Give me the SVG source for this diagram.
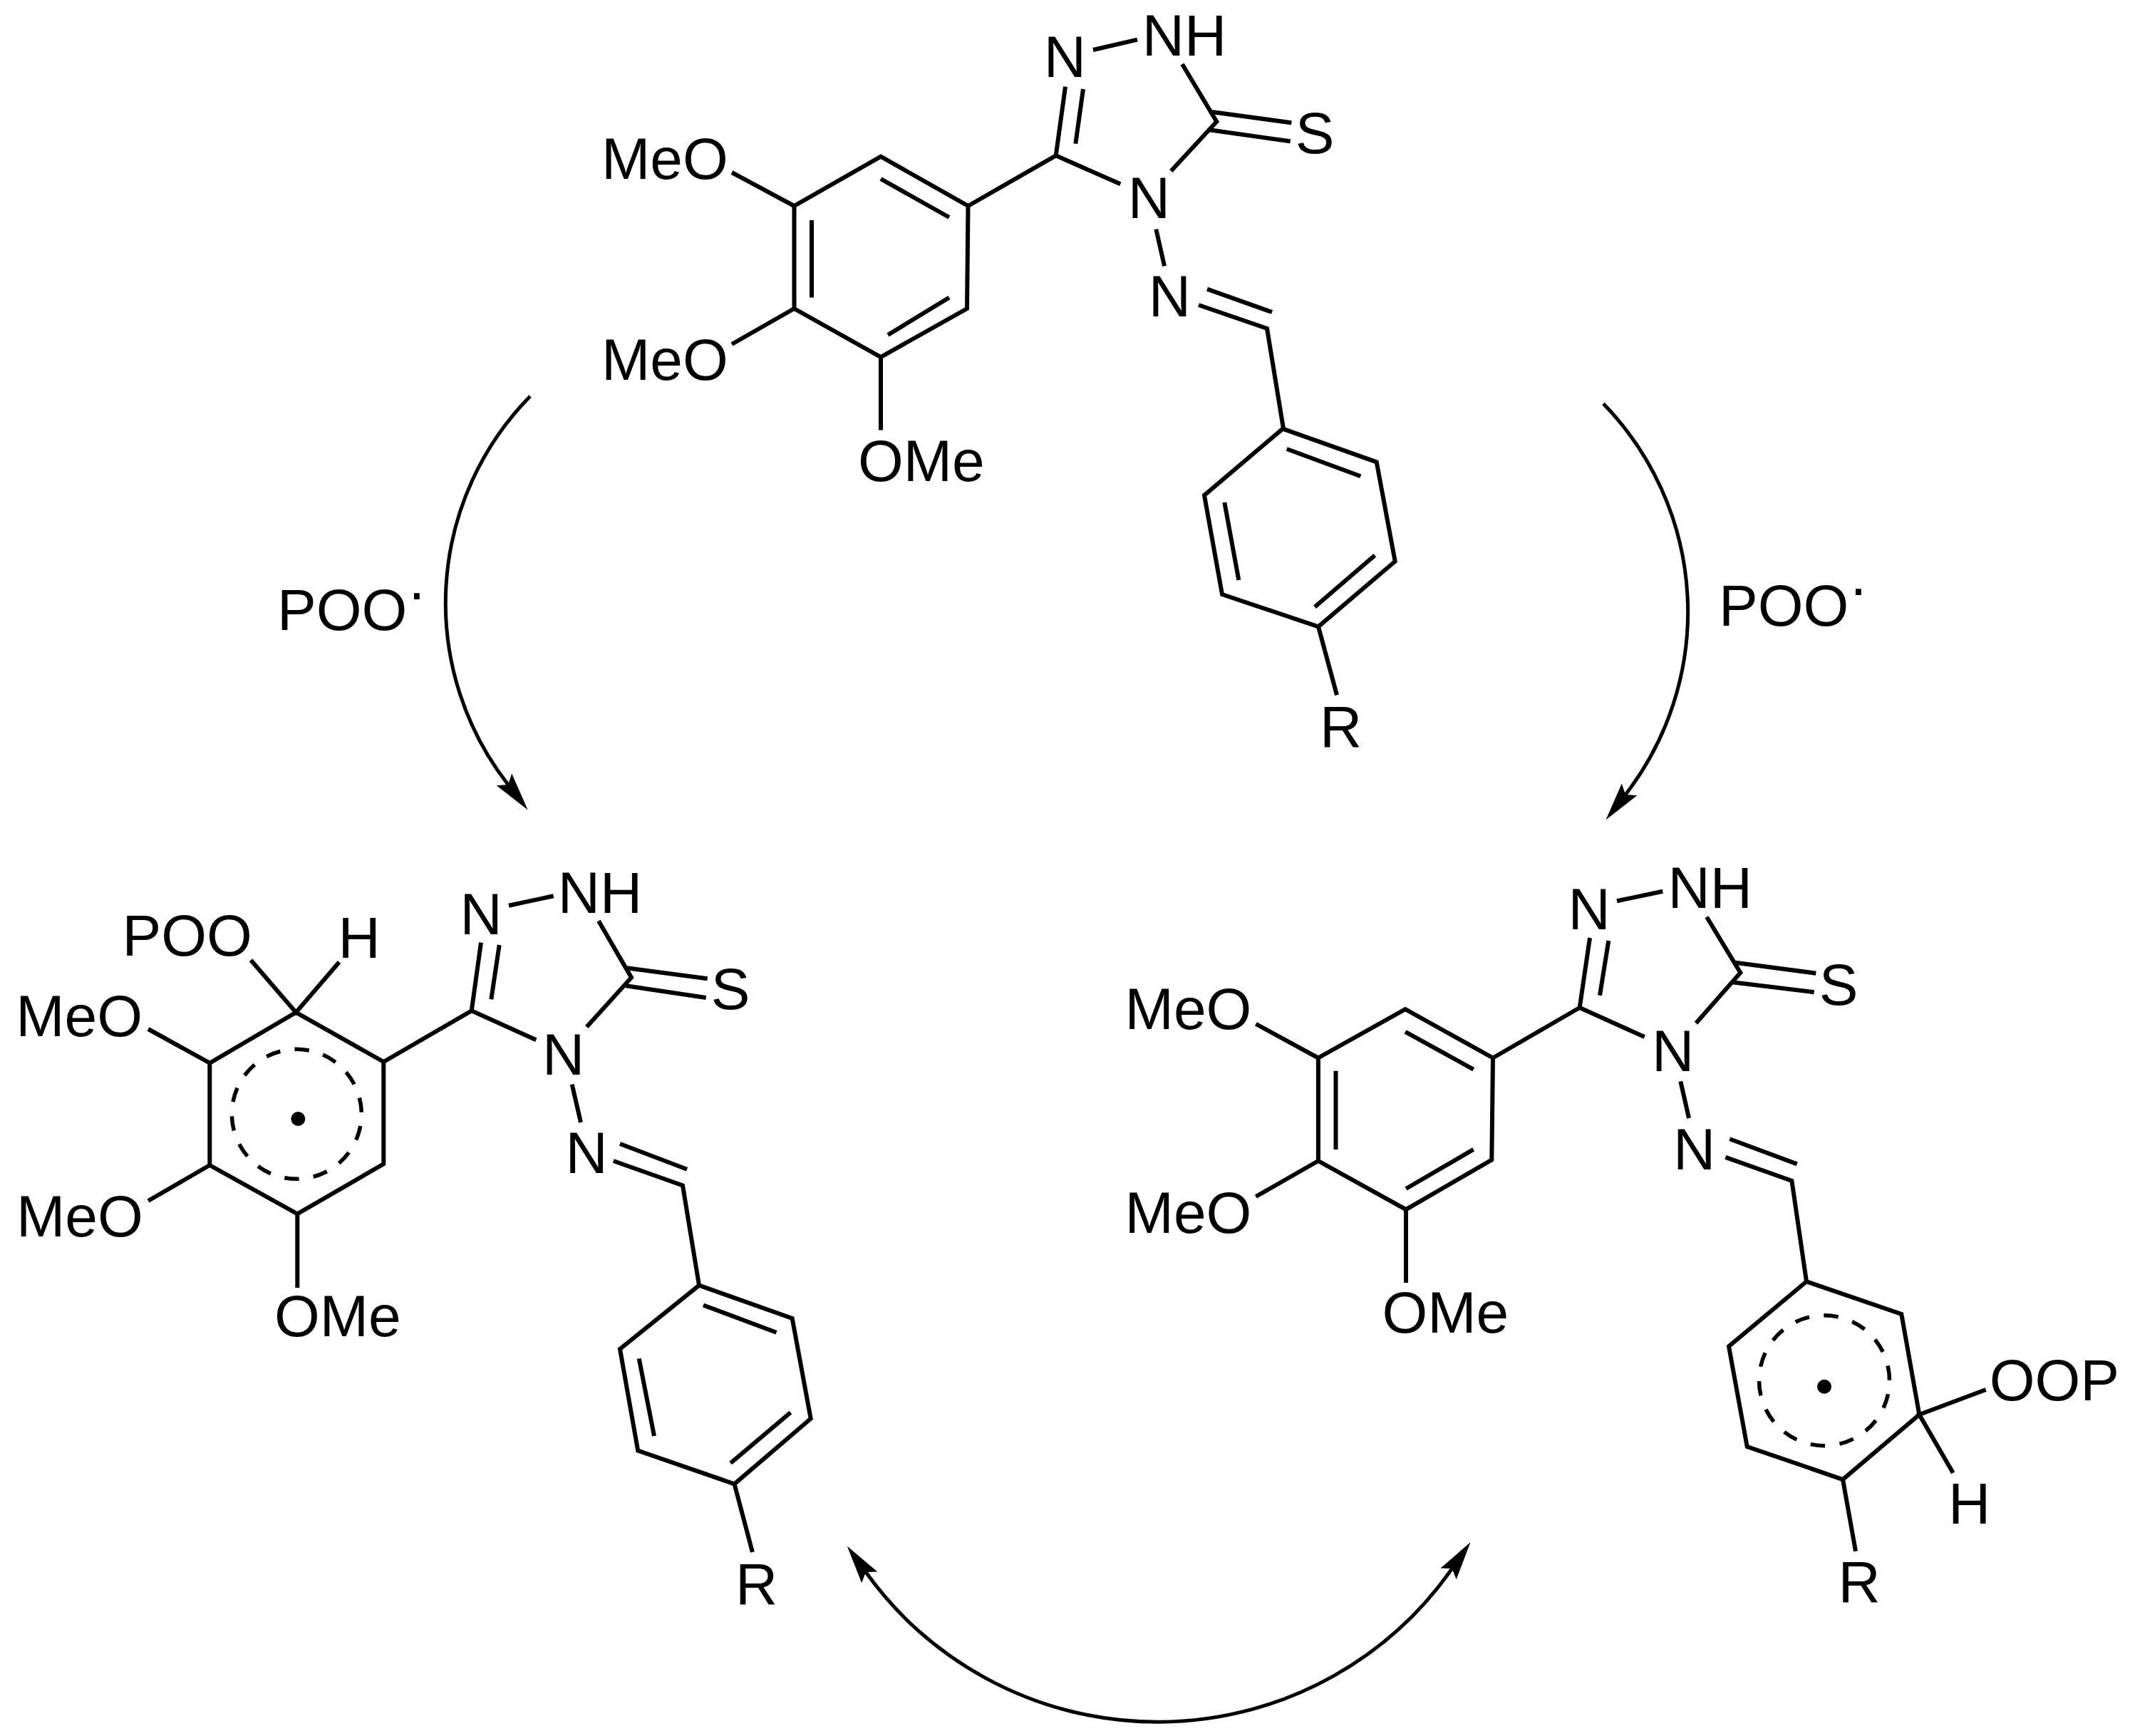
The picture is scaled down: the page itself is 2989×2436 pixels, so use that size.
<svg xmlns="http://www.w3.org/2000/svg" width="2989" height="2436" viewBox="0 0 2989 2436">
<style>
.b{fill:none;stroke:#000;stroke-width:6;stroke-linejoin:miter;stroke-linecap:butt}
.d{fill:none;stroke:#000;stroke-width:5.5}
.a{fill:none;stroke:#000;stroke-width:5}
.h{fill:#000}
text{font-family:"Liberation Sans",Arial,sans-serif;font-size:82px;fill:#000}
</style>
<defs>
<marker id="arrow" markerUnits="userSpaceOnUse" markerWidth="60" markerHeight="32" viewBox="0 0 60 32" refX="9" refY="16" orient="auto-start-reverse"><path class="h" d="M0 2.4L54 16L0 29.6L9 16Z"/></marker>
</defs>
<rect width="2989" height="2436" fill="#fff"/>
<g id="connectors">
<path class="a" d="M744 556A414 414 0 0 0 713 1101" marker-end="url(#arrow)"/>
<path class="a" d="M2250 566.5A419 419 0 0 1 2281 1115" marker-end="url(#arrow)"/>
<path class="a" d="M1215 2206A504 504 0 0 0 2037.7 2201" marker-start="url(#arrow)" marker-end="url(#arrow)"/>
</g>
<g id="label-left"><text x="389" y="884">POO<tspan dy="-25">·</tspan></text></g>
<g id="label-right"><text x="2412" y="878">POO<tspan dy="-25">·</tspan></text></g>
<g id="molecule-top">
<path class="b" d="M1236 219.6L1358.5 289L1357 433L1236 501L1114.5 433L1114.5 289Z"/>
<path class="b" d="M1236 251L1332 305M1332 417.5L1246 470M1139 309L1139 417.5M1027 242L1114.5 289M1027 483L1114.5 433M1236 501L1236 603.5M1358.5 289L1481.7 218.3L1495 121.7M1509.3 201.7L1520 125M1534 70L1596 55.7M1659 90L1707.3 170.7L1643.3 240M1698.3 156.7L1812.3 172.3M1697.3 182.3L1810.7 198.3M1481.7 218.3L1572.3 258.3M1622.3 321.7L1634 373.3M1682 428L1778 461L1801 601.7M1694 405.6L1785 438"/>
<path class="b" d="M1800 601.7L1931.7 648.3L1957.7 787.7L1850 879.3L1715 834L1690 695Z"/>
<path class="b" d="M1805.7 630L1909.3 668.3M1929.3 779.3L1845 851.7M1718.3 705L1738.3 814M1850 879.3L1876 975.4"/>
<text x="844" y="250.5">MeO</text>
<text x="844" y="533">MeO</text>
<text x="1204" y="675">OMe</text>
<text x="1464.8" y="108.3">N</text>
<text x="1602.8" y="78.3">NH</text>
<text x="1817.8" y="215">S</text>
<text x="1582.8" y="306">N</text>
<text x="1611.8" y="443.5">N</text>
<text x="1852" y="1047.7">R</text>
</g>
<g id="molecule-left">
<path class="b" d="M415.3 1420.7L538.3 1490L538.3 1633.3L417.3 1703.3L294.3 1635L294.3 1491.7Z"/>
<path class="b" d="M352 1347.3L415.3 1420.7L476 1350M208 1444L294.3 1491.7M208 1685L294.3 1635M417.3 1703.3L417.3 1807M538.3 1490L661.7 1418.3L675 1322.7M689.3 1402.3L700.7 1326M714 1270.7L776.7 1257.3M840 1292.3L886 1371.7L823.3 1441M879.3 1358.3L992.7 1373.3M878.3 1383.3L990.7 1400M661.7 1418.3L752.3 1459.3M802.7 1521.7L815 1575M860.8 1629L958 1663.5L981 1803.6M870 1605L964 1640.8"/>
<path class="b" d="M981 1803.6L1111.7 1850L1137.7 1990.7L1030.6 2082.4L895.2 2035.5L870 1893Z"/>
<path class="b" d="M987 1831.5L1089.5 1869.7M1109.4 1982L1025.3 2053M896.7 1906.3L918 2015M1030.6 2082.4L1055.9 2178"/>
<circle class="d" cx="416.3" cy="1563.3" r="91" stroke-dasharray="20.5 20.34" stroke-dashoffset="-16.8"/>
<circle class="h" cx="418.3" cy="1570" r="10"/>
<text x="171.5" y="1341.4">POO</text>
<text x="474.5" y="1344.3">H</text>
<text x="22.3" y="1453.7">MeO</text>
<text x="23" y="1735.4">MeO</text>
<text x="385" y="1874.8">OMe</text>
<text x="645.5" y="1310.7">N</text>
<text x="782.8" y="1280.7">NH</text>
<text x="997.8" y="1415.5">S</text>
<text x="761" y="1508.3">N</text>
<text x="793.5" y="1646">N</text>
<text x="1032" y="2251">R</text>
</g>
<g id="molecule-right">
<path class="b" d="M1972 1416.2L2095 1484.5L2093.3 1627.5L1973 1697.2L1849.9 1629L1849.9 1484.5Z"/>
<path class="b" d="M1972 1447.8L2067.7 1500.6M2067.7 1612.9L1973 1668M1874.5 1502.8L1874.5 1612.9M1762.4 1436.8L1849.9 1484.5M1762.4 1679L1849.9 1629M1973 1697.2L1973 1800M2095 1484.5L2216.7 1414L2231 1316M2245 1396.7L2257.3 1320M2269 1264.3L2333.3 1250.7M2395 1286.7L2442.3 1365L2380 1435.7M2435 1350.7L2548.3 1365.7M2431 1378.3L2545.7 1392.3M2216.7 1414L2307.7 1455M2358.3 1517.3L2370 1569M2421.4 1623.9L2514.4 1656.9L2535 1798.3M2427.3 1598.3L2521.7 1633.4"/>
<path class="b" d="M2535 1798.3L2668.3 1844L2693.3 1985L2586 2076L2451.7 2030L2426 1889.3Z"/>
<path class="b" d="M2786.7 1950L2693.3 1985L2740.7 2066.7M2586 2076L2604 2176.7"/>
<circle class="d" cx="2560" cy="1937.2" r="91.5" stroke-dasharray="20.5 20.56" stroke-dashoffset="-19.2"/>
<circle class="h" cx="2560" cy="1945.7" r="10"/>
<text x="1578.6" y="1444">MeO</text>
<text x="1578.6" y="1730.3">MeO</text>
<text x="1939.4" y="1869.7">OMe</text>
<text x="2200.5" y="1304.3">N</text>
<text x="2340.5" y="1274.3">NH</text>
<text x="2552.8" y="1409.7">S</text>
<text x="2318" y="1502.7">N</text>
<text x="2348" y="1640.8">N</text>
<text x="2791.7" y="1965">OOP</text>
<text x="2734" y="2137.7">H</text>
<text x="2579.5" y="2247.5">R</text>
</g>
</svg>
